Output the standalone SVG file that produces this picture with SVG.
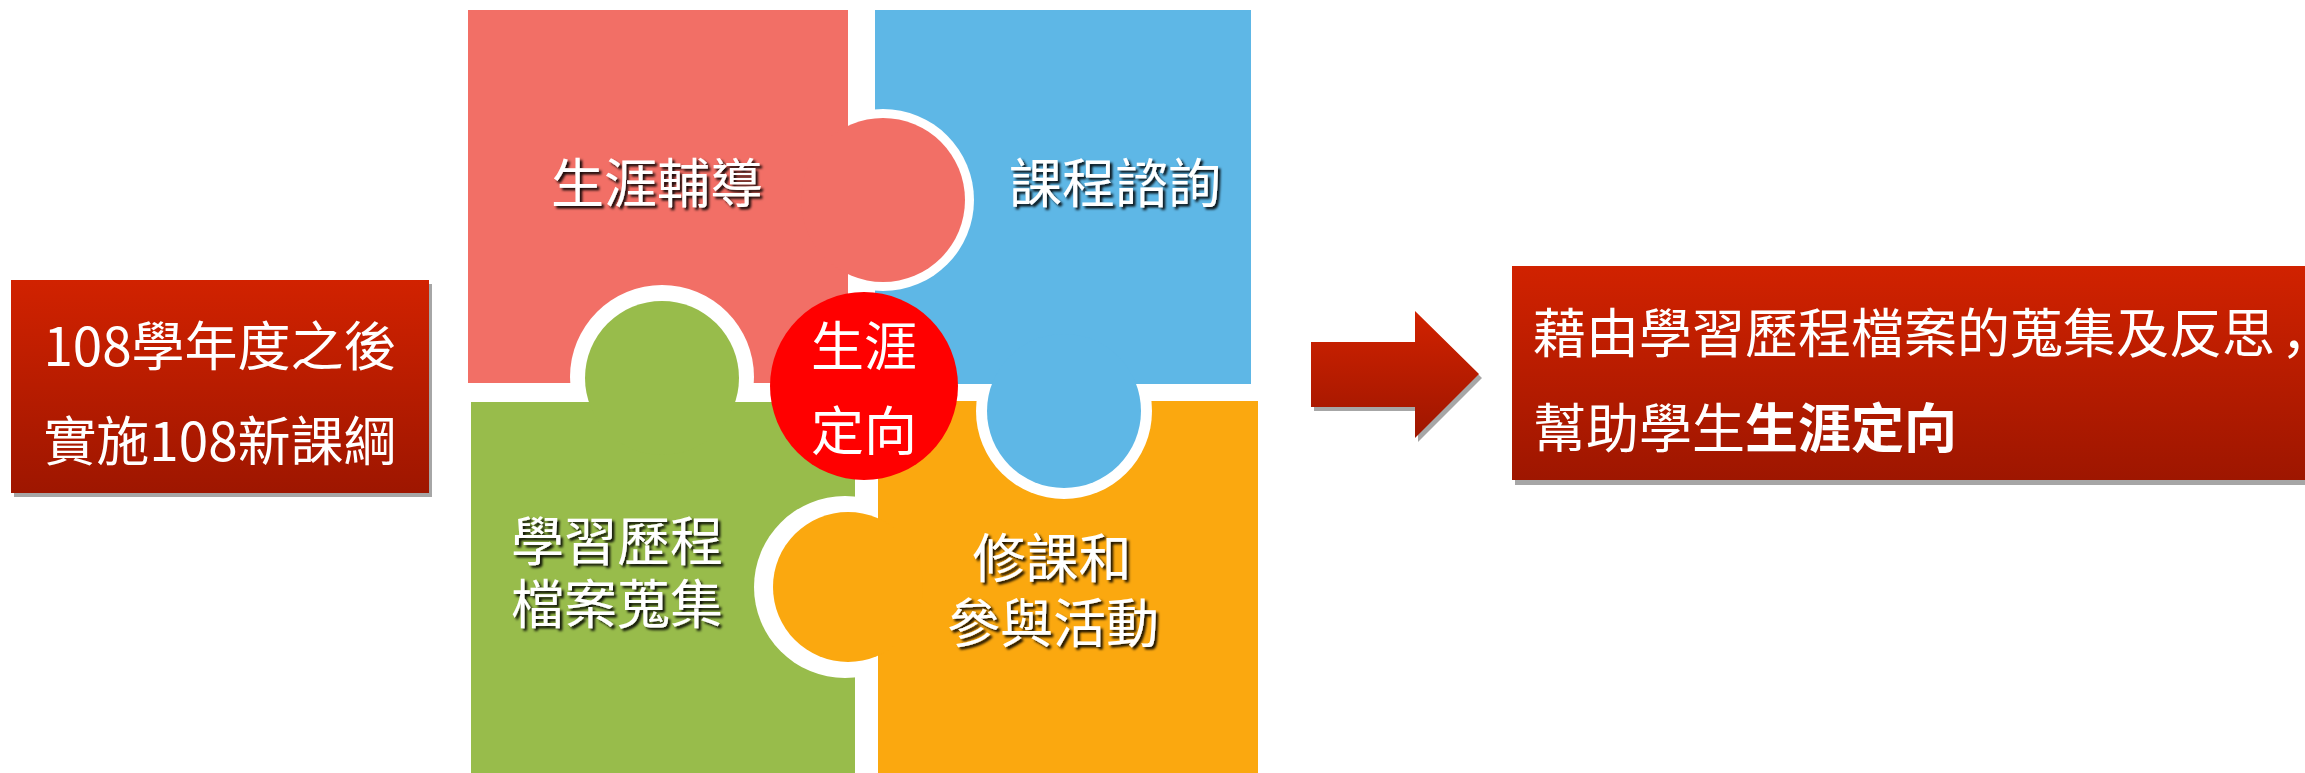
<svg xmlns="http://www.w3.org/2000/svg" width="2305" height="773" viewBox="0 0 2305 773">
<defs>
<style>
text{font-family:"Noto Sans CJK TC","Noto Sans CJK SC","Noto Sans",sans-serif;fill:#fff;font-size:53px}
.mid{text-anchor:middle}
.sh{filter:url(#ts)}
.ring{fill:#fff}
.sc{font-family:"Noto Sans CJK SC","Noto Sans CJK TC",sans-serif}
</style>
<linearGradient id="rg" x1="0" y1="0" x2="0" y2="1">
<stop offset="0" stop-color="#D12200"/>
<stop offset="1" stop-color="#9E1600"/>
</linearGradient>
<filter id="ts" x="-10%" y="-20%" width="130%" height="150%">
<feDropShadow dx="2.5" dy="2.5" stdDeviation="0.8" flood-color="#000" flood-opacity="0.9"/>
</filter>
<clipPath id="cR"><rect x="848" y="0" width="400" height="400"/></clipPath>
<clipPath id="cB"><rect x="900" y="384" width="400" height="300"/></clipPath>
<clipPath id="cG"><rect x="500" y="200" width="400" height="202"/></clipPath>
<clipPath id="cO"><rect x="600" y="400" width="278" height="373"/></clipPath>
</defs>
<rect width="2305" height="773" fill="#fff"/>

<g id="box-left">
<rect x="14" y="284" width="418" height="213" fill="#A6A6A6"/>
<rect x="11" y="280" width="418" height="213" fill="url(#rg)"/>
<text class="mid" x="220" y="366">108學年度之後</text>
<text class="mid" x="220" y="461">實施108新課綱</text>
</g>

<g id="puzzle">
<rect id="piece-red-body" x="468" y="10" width="380" height="373" fill="#F26F66"/>
<rect id="piece-blue-body" x="875" y="10" width="376" height="374" fill="#5EB7E6"/>
<rect id="piece-green-body" x="471" y="402" width="384" height="371" fill="#98BC4B"/>
<rect id="piece-orange-body" x="878" y="401" width="380" height="372" fill="#FBA80F"/>
<g id="tab-red"><circle class="ring" cx="883" cy="200" r="91" clip-path="url(#cR)"/><circle cx="883" cy="200" r="82" fill="#F26F66"/></g>
<g id="tab-blue"><circle class="ring" cx="1064" cy="411" r="88" clip-path="url(#cB)"/><circle cx="1064" cy="411" r="77" fill="#5EB7E6"/></g>
<g id="tab-green"><circle class="ring" cx="662" cy="377" r="92" clip-path="url(#cG)"/><circle cx="662" cy="378" r="77" fill="#98BC4B"/></g>
<g id="tab-orange"><circle class="ring" cx="845" cy="587" r="91" clip-path="url(#cO)"/><circle cx="848" cy="587" r="75" fill="#FBA80F"/></g>
</g>

<g id="node-career-guidance"><text class="mid sh" x="657" y="203">生涯輔導</text></g>
<g id="node-course-consult"><text class="mid sh" x="1115" y="203">課程諮詢</text></g>
<g id="node-portfolio"><text class="mid sh" x="617" y="561">學習歷程</text><text class="mid sh" x="617" y="624">檔案蒐集</text></g>
<g id="node-activities"><text class="mid sh" x="1052" y="578">修課和</text><text class="mid sh" x="1053" y="643">參與活動</text></g>

<g id="node-center">
<circle cx="864" cy="386" r="94" fill="#FF0000"/>
<text class="mid" x="864" y="366">生涯</text>
<text class="mid" x="864" y="451">定向</text>
</g>

<g id="connectors">
<polygon points="1314,346 1418,346 1418,315 1482,378 1418,442 1418,411 1314,411" fill="#A6A6A6"/>
<polygon points="1311,342 1415,342 1415,311 1479,374 1415,438 1415,407 1311,407" fill="url(#rg)"/>
</g>

<g id="box-right">
<rect x="1515" y="271" width="790" height="214" fill="#A6A6A6"/>
<rect x="1512" y="266" width="793" height="214" fill="url(#rg)"/>
<text x="1533" y="353">藉由學習歷程檔案的蒐集及反思<tspan class="sc" dx="6">，</tspan></text>
<text x="1533" y="448">幫助學生<tspan font-weight="bold">生涯定向</tspan></text>
</g>
</svg>
